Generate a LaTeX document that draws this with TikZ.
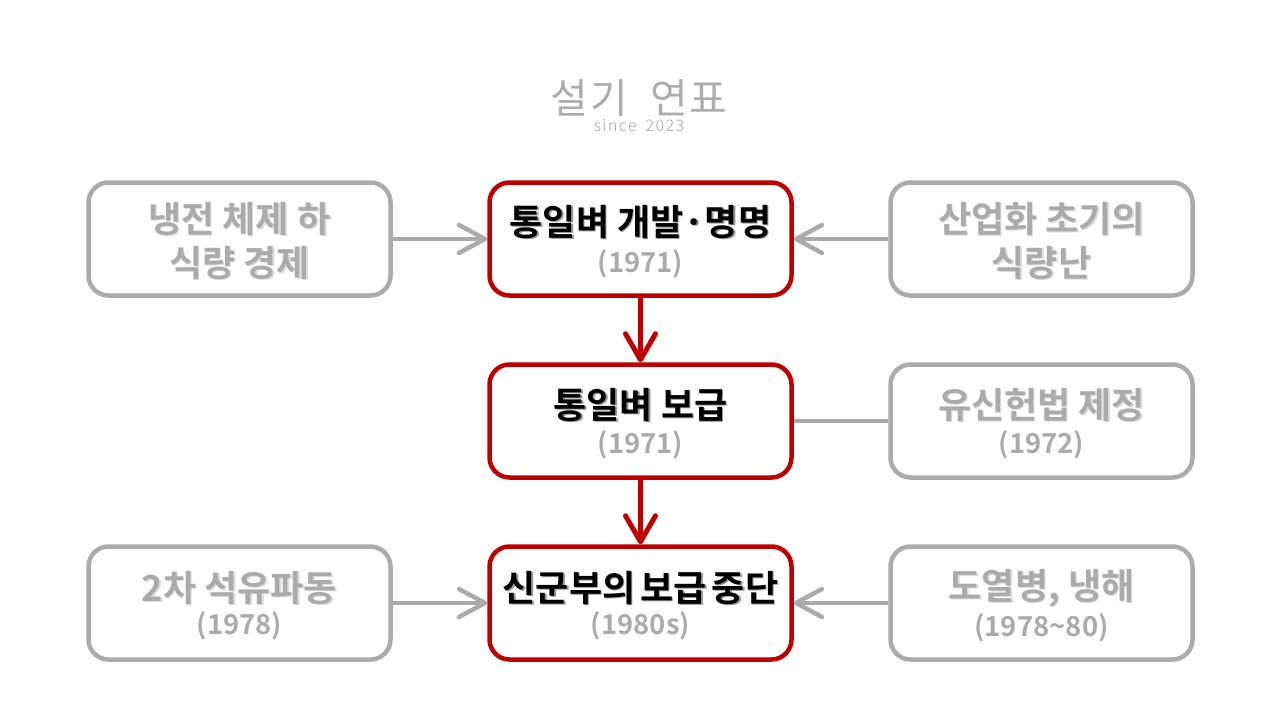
\documentclass[tikz,border=0pt]{standalone}
\usepackage{fontspec}
\usetikzlibrary{arrows.meta}
\setmainfont{Noto Sans CJK KR}[BoldFont={* Bold}]
\newfontfamily\krb{Noto Sans CJK KR Bold}
\newfontfamily\krr{Noto Sans CJK KR}
\newfontfamily\krl{Noto Sans CJK KR Light}
\definecolor{cred}{HTML}{BE0000}
\definecolor{cgray}{HTML}{ABABAB}
\newcommand{\mainT}[2]{{\fontsize{36}{40}\krb\rlap{\kern1.5pt\raisebox{-1.5pt}{\textcolor{#1!40!white}{#2}}}\textcolor{#1}{#2}}}
\newcommand{\yearT}[1]{{\fontsize{27.5}{30}\krb\textcolor{cgray}{#1}}}
\newcommand{\topS}[1]{\rule{0pt}{#1}}
\tikzset{
 x=1pt,y=-1pt,
 boxbase/.style={rounded corners=20pt,line width=4.5pt,minimum width=302pt,minimum height=113pt,inner sep=0pt,align=center,fill=white},
 redbox/.style={boxbase,draw=cred},
 graybox/.style={boxbase,draw=cgray},
 redarrow/.style={draw=cred,line width=5pt,-{Straight Barb[length=26pt,width=30pt,line width=5pt,round]}},
 grayarrow/.style={draw=cgray,line width=4.5pt,-{Straight Barb[length=26pt,width=28pt,line width=4.5pt,round]}},
 grayline/.style={draw=cgray,line width=4.5pt},
}
\begin{document}
\begin{tikzpicture}
\useasboundingbox (0,0) rectangle (1280,720);
\node[graybox] (cw) at (239.5,239) {\topS{35pt}\mainT{cgray}{냉전 체제\hspace{1pt} 하}\\[8pt]\mainT{cgray}{식량 경제}};
\node[redbox] (a) at (640.5,239) {\topS{35pt}\mainT{black}{통일벼 개발·명명}\\[8pt]\yearT{(1971)}};
\node[graybox] (ind) at (1041.5,239) {\topS{35pt}\mainT{cgray}{산업화 초기의}\\[8pt]\mainT{cgray}{식량난}};
\node[redbox] (b) at (640.5,421) {\topS{35pt}\mainT{black}{통일벼 보급}\\[6pt]\yearT{(1971)}};
\node[graybox] (yu) at (1041.5,421) {\topS{35pt}\mainT{cgray}{유신헌법 제정}\\[6pt]\yearT{(1972)}};
\node[graybox] (oil) at (239.5,603) {\topS{35pt}\mainT{cgray}{2차 석유파동}\\[4pt]\yearT{(1978)}};
\node[redbox] (c) at (640.5,603) {\topS{35pt}\mainT{black}{신군부의\hspace{-3pt} 보급\hspace{-3pt} 중단}\\[4pt]\yearT{(1980s)}};
\node[graybox] (dis) at (1041.5,603) {\topS{35pt}\mainT{cgray}{도열병, 냉해}\\[4pt]\yearT{(1978\textasciitilde80)}};
\draw[grayarrow] (cw.east) -- (a.west);
\draw[grayarrow] (ind.west) -- (a.east);
\draw[grayline] (yu.west) -- (b.east);
\draw[grayarrow] (oil.east) -- (c.west);
\draw[grayarrow] (dis.west) -- (c.east);
\draw[redarrow] (a.south) -- (b.north);
\draw[redarrow] (b.south) -- (c.north);
\node[inner sep=0pt,text=black!32] (title) at (639,98) {\fontsize{41}{44}\krr\addfontfeature{LetterSpace=5}설기\hspace{11pt} 연표};
\node[inner sep=0pt,text=black!35] (since) at (639,126) {\fontsize{16}{18}\krl\addfontfeature{LetterSpace=9}since\hspace{4pt} 2023};
\end{tikzpicture}
\end{document}
